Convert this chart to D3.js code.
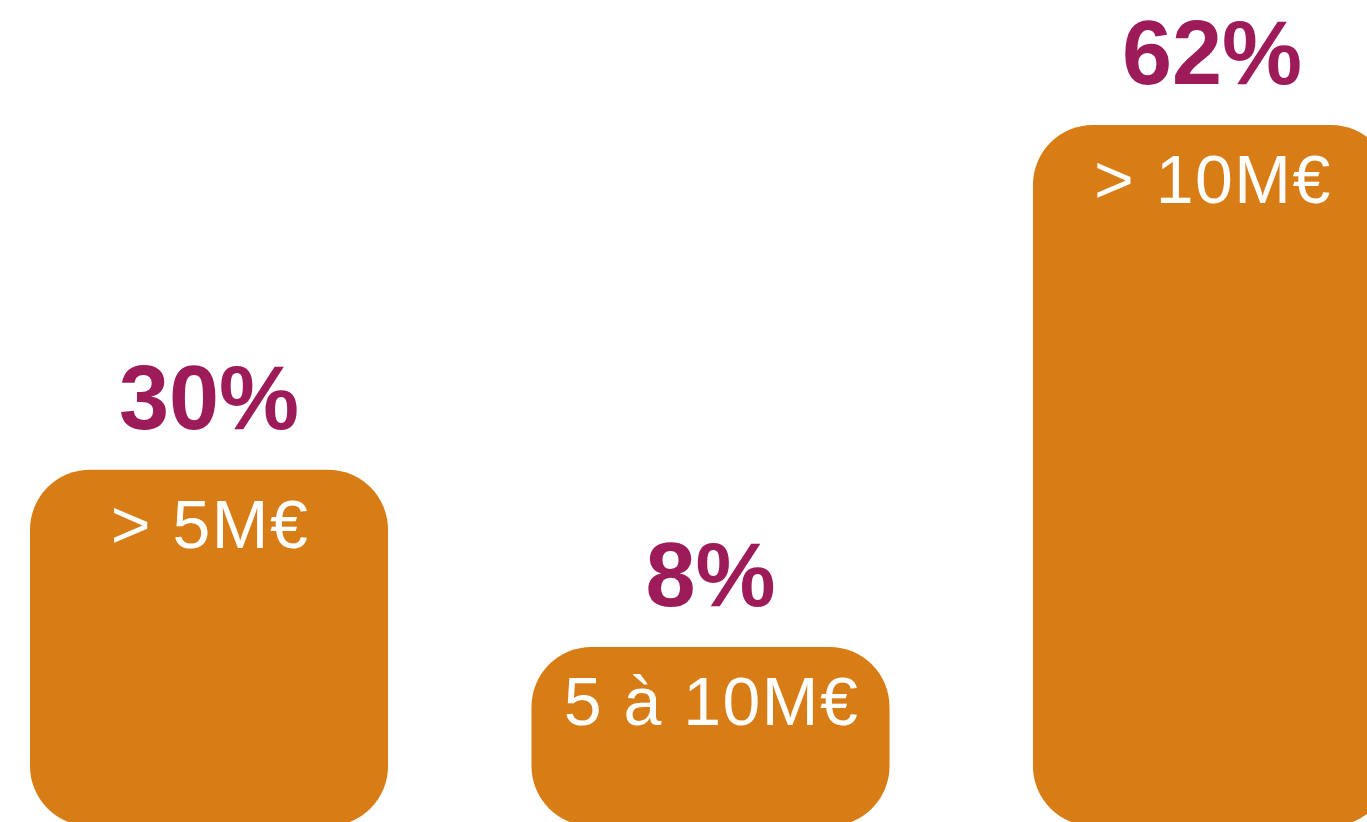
<!DOCTYPE html>
<html>
<head>
<meta charset="utf-8">
<script src="https://cdn.jsdelivr.net/npm/d3@7"></script>
<style>
  html, body { margin: 0; padding: 0; background: #fff; overflow: hidden; }
  svg { display: block; }
  .pct { font-family: "Liberation Sans", Arial, Helvetica, sans-serif; font-weight: bold; fill: #9e1b5a; }
  .lbl { font-family: "Liberation Sans", Arial, Helvetica, sans-serif; fill: #fff; }
</style>
</head>
<body>
<div id="chart"></div>
<script>
const categories = ["> 5M€", "5 à 10M€", "> 10M€"];
const values = [30, 8, 62];
const valueLabels = ["30%", "8%", "62%"];

let width = 1367;
let height = 822;
let bottom = 826;   // bars run a little past the bottom edge
let minBarHeight = 179; // keeps room for the label in small bars
let radius = 60;

let svg = d3.select("#chart").append("svg")
    .attr("width", width)
    .attr("height", height);

let x = d3.scaleBand()
    .domain(categories)
    .range([30, 1391])
    .paddingInner(0.286)
    .paddingOuter(0);

let y = d3.scaleLinear()
    .domain([0, d3.max(values)])
    .range([bottom - 33, 125]);

let data = categories.map((c, i) => ({ cat: c, value: values[i], label: valueLabels[i] }));
let barTop = d => Math.min(y(d.value), bottom - minBarHeight);

let g = svg.selectAll(".bar")
    .data(data)
    .enter()
    .append("g")
    .attr("class", "bar");

g.append("rect")
    .attr("x", d => x(d.cat))
    .attr("y", d => barTop(d))
    .attr("width", x.bandwidth())
    .attr("height", d => bottom - barTop(d))
    .attr("rx", radius)
    .attr("ry", radius)
    .style("fill", "#d87c15");

// category label inside bar
g.append("text")
    .attr("class", "lbl")
    .attr("x", d => x(d.cat) + x.bandwidth() / 2 + 1)
    .attr("y", d => barTop(d) + 78)
    .attr("text-anchor", "middle")
    .style("font-size", "68px")
    .style("letter-spacing", "1.5px")
    .text(d => d.cat);

// percentage above bar
g.append("text")
    .attr("class", "pct")
    .attr("x", d => x(d.cat) + x.bandwidth() / 2)
    .attr("y", d => barTop(d) - 41)
    .attr("text-anchor", "middle")
    .style("font-size", "90px")
    .text(d => d.label);
</script>
</body>
</html>
